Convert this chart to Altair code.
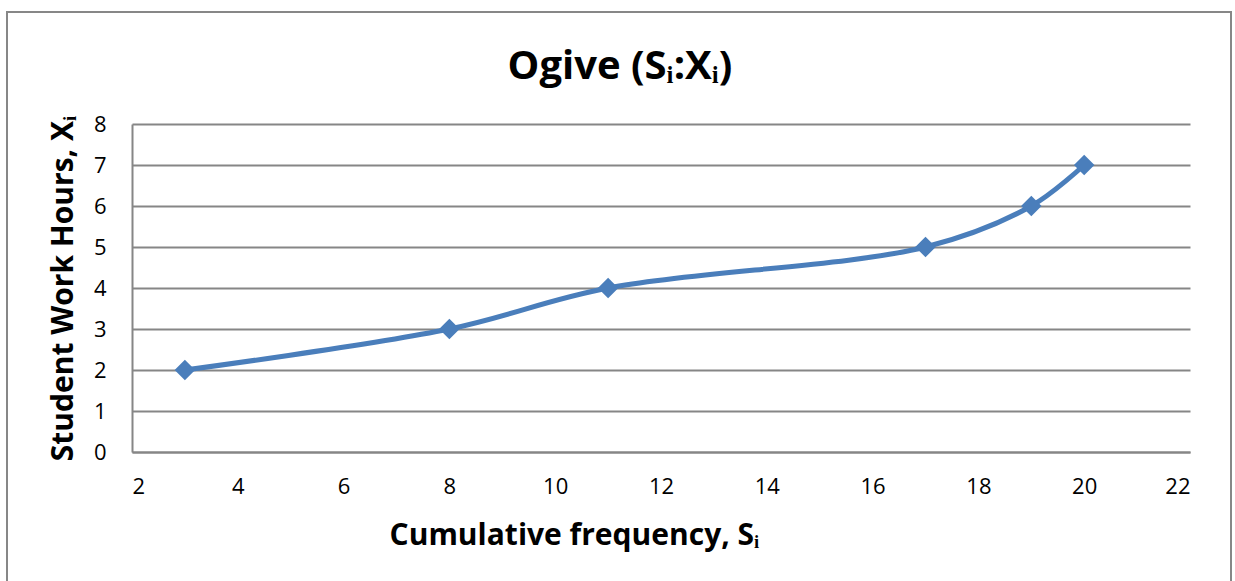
import altair as alt
import pandas as pd

cum_freq = [3, 8, 11, 17, 19, 20]
work_hours = [2, 3, 4, 5, 6, 7]

df = pd.DataFrame({"S": cum_freq, "X": work_hours})

W, H = 1058, 328
FONT = "Open Sans"
BLUE = "#4A7EBB"

base = alt.Chart(df)

line = base.mark_line(color=BLUE, strokeWidth=5, interpolate="catmull-rom").encode(
    x=alt.X("S:Q", scale=alt.Scale(domain=[2, 22], nice=False),
            axis=alt.Axis(values=list(range(2, 23, 2)), title="Cumulative frequency, Sᵢ",
                          grid=False, ticks=False, labelPadding=24,
                          titleX=442, titleY=92, titleAnchor="start", titleAlign="center",
                          titleBaseline="alphabetic")),
    y=alt.Y("X:Q", scale=alt.Scale(domain=[0, 8], nice=False),
            axis=alt.Axis(values=list(range(0, 9)), title="Student Work Hours, Xᵢ",
                          grid=True, ticks=False, labelPadding=26,
                          titleX=-60, titleY=164, titleAlign="center", titleAngle=-90,
                          titleBaseline="alphabetic")),
)

points = base.mark_point(shape="diamond", filled=True, color=BLUE, size=420, opacity=1).encode(
    x="S:Q", y="X:Q"
)

border = alt.Chart(df).mark_rect(fill=None, stroke="#878787", strokeWidth=2, clip=False).encode(
    x=alt.value(-125), x2=alt.value(1099), y=alt.value(-112), y2=alt.value(470)
)

title = alt.Chart(pd.DataFrame({"t": ["Ogive (Sᵢ:Xᵢ)"]})).mark_text(
    font=FONT, fontSize=40, fontWeight="bold", color="black", align="center",
    baseline="alphabetic"
).encode(text="t:N", x=alt.value(488), y=alt.value(-45))

chart = alt.layer(border, line, points, title).properties(
    width=W, height=H,
    autosize=alt.AutoSizeParams(type="none"),
    padding={"left": 132, "top": 124, "right": 45, "bottom": 129},
    background="white",
).configure_view(stroke=None).configure_axis(
    domainColor="#868686", domainWidth=2, gridColor="#868686", gridWidth=2,
    labelFont=FONT, labelFontSize=22, labelColor="black",
    titleFont=FONT, titleFontSize=30, titleFontWeight="bold", titleColor="black",
)

chart.save("out.html", embed_options={"renderer": "svg", "actions": False})
